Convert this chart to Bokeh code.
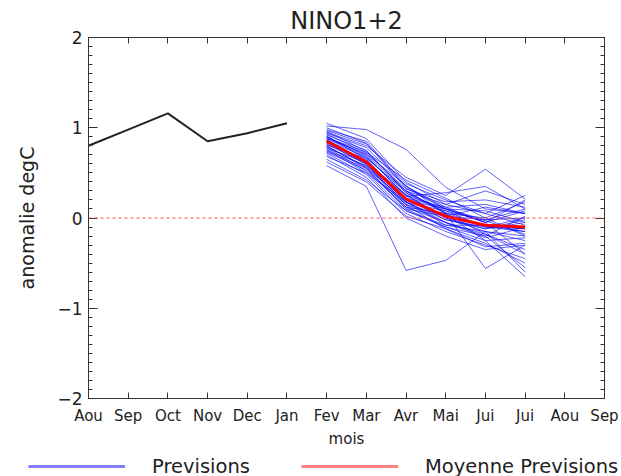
from bokeh.plotting import figure
from bokeh.layouts import column
from bokeh.models import (Range1d, FixedTicker, LinearAxis, Span, Legend,
                          LegendItem)
from bokeh.embed import file_html
from bokeh.resources import INLINE
import numpy as np

# ---- data -------------------------------------------------------------
months = ["Aou", "Sep", "Oct", "Nov", "Dec", "Jan", "Fev", "Mar", "Avr",
          "Mai", "Jui", "Jui", "Aou", "Sep"]
y_labels = {-2: "\u22122", -1: "\u22121", 0: "0", 1: "1", 2: "2"}

# observed anomaly (Aou .. Jan)
obs_x = [0, 1, 2, 3, 4, 5]
obs = [0.80, 0.98, 1.16, 0.85, 0.94, 1.05]

# forecast months (Fev .. Jui)
fc_x = [6, 7, 8, 9, 10, 11]

# ensemble members, one value per member for each forecast month
fev = [1.02, 0.58, 0.95, 0.90, 1.05, 0.98, 0.92, 0.88, 0.85, 0.82,
       0.80, 0.78, 0.75, 0.72, 0.70, 0.68, 0.65, 0.62, 0.97, 0.93,
       0.91, 0.89, 0.87, 0.86, 0.84, 0.83, 0.81, 0.79, 0.77, 0.76,
       0.74, 0.73, 0.94, 0.96, 1.00, 0.90, 0.88, 0.86, 0.85, 0.80]
mar = [0.98, 0.35, 0.80, 0.70, 0.88, 0.85, 0.75, 0.68, 0.62, 0.60,
       0.55, 0.52, 0.58, 0.48, 0.45, 0.50, 0.42, 0.40, 0.82, 0.72,
       0.65, 0.73, 0.60, 0.67, 0.64, 0.59, 0.66, 0.57, 0.62, 0.50,
       0.55, 0.53, 0.78, 0.74, 0.83, 0.69, 0.71, 0.63, 0.61, 0.56]
avr = [0.76, -0.58, 0.45, 0.30, 0.40, 0.35, 0.28, 0.25, 0.18, 0.15,
       0.10, 0.12, 0.22, 0.05, 0.00, 0.18, 0.08, 0.02, 0.38, 0.32,
       0.20, 0.42, 0.25, 0.28, 0.22, 0.12, 0.30, 0.17, 0.26, 0.08,
       0.20, 0.15, 0.35, 0.30, 0.33, 0.24, 0.36, 0.18, 0.14, 0.10]
mai = [0.34, -0.47, 0.25, 0.05, 0.15, 0.10, 0.08, 0.00, -0.05, 0.02,
       -0.10, 0.05, 0.12, -0.15, -0.20, -0.02, -0.08, -0.12, 0.20, 0.18,
       0.02, 0.22, 0.10, 0.05, -0.02, -0.05, 0.15, 0.08, 0.00, -0.10,
       0.10, -0.05, 0.12, 0.06, 0.10, 0.28, 0.04, -0.08, -0.12, 0.02]
juin = [0.10, -0.15, 0.54, -0.56, 0.05, -0.05, -0.10, -0.12, -0.20, -0.02,
        -0.25, 0.00, 0.15, -0.30, -0.35, -0.10, -0.15, -0.28, 0.05, 0.20,
        -0.08, 0.00, -0.05, -0.18, -0.12, -0.22, 0.30, -0.03, -0.15, -0.20,
        0.08, -0.18, -0.05, -0.10, -0.02, 0.35, -0.25, -0.08, -0.32, 0.12]
juil = [0.05, -0.20, 0.21, -0.30, 0.25, -0.40, -0.15, -0.05, -0.55, 0.10,
        -0.65, 0.18, 0.05, -0.45, -0.30, 0.00, -0.25, -0.50, -0.08, 0.12,
        -0.12, -0.20, 0.08, -0.35, -0.02, -0.10, 0.15, -0.18, -0.60, 0.02,
        -0.05, -0.40, 0.20, -0.12, 0.00, 0.10, -0.22, -0.15, -0.28, 0.05]

# ensemble mean
moyenne = [0.85, 0.62, 0.21, 0.02, -0.08, -0.10]

# ---- figure -----------------------------------------------------------
FONT = "DejaVu Sans"
TXT = "#222222"
LINE = "#333333"

p = figure(width=621, height=450, x_range=Range1d(0, 13),
           y_range=Range1d(-2, 2), output_backend="svg",
           toolbar_location=None, title="NINO1+2",
           min_border_left=88, min_border_right=17,
           min_border_top=37, min_border_bottom=50)
p.frame_align = False
p.background_fill_color = "white"
p.border_fill_color = "white"
p.outline_line_color = LINE
p.outline_line_width = 1
p.grid.visible = False

p.title.align = "center"
p.title.text_font = FONT
p.title.text_font_size = "24px"
p.title.text_font_style = "normal"
p.title.text_color = TXT
p.title.standoff = 5

xt = FixedTicker(ticks=list(range(14)), minor_ticks=[])
yt = FixedTicker(ticks=[-2, -1, 0, 1, 2],
                 minor_ticks=[round(v, 2) for v in np.arange(-2, 2.01, 0.1)])


def style_x(ax, labels=True):
    ax.ticker = xt
    ax.axis_line_color = LINE
    ax.major_tick_line_color = LINE
    ax.major_tick_in = 6
    ax.major_tick_out = 0
    ax.minor_tick_in = 0
    ax.minor_tick_out = 0
    if labels:
        ax.major_label_overrides = {i: m for i, m in enumerate(months)}
        ax.major_label_text_font = FONT
        ax.major_label_text_font_size = "15px"
        ax.major_label_text_color = TXT
        ax.major_label_standoff = 8
    else:
        ax.major_label_overrides = {i: "" for i in range(14)}
        ax.major_label_standoff = 0


def style_y(ax, labels=True):
    ax.ticker = yt
    ax.axis_line_color = LINE
    ax.major_tick_line_color = LINE
    ax.minor_tick_line_color = LINE
    ax.major_tick_in = 9
    ax.major_tick_out = 0
    ax.minor_tick_in = 4
    ax.minor_tick_out = 0
    if labels:
        ax.major_label_overrides = y_labels
        ax.major_label_text_font = FONT
        ax.major_label_text_font_size = "17px"
        ax.major_label_text_color = TXT
        ax.major_label_standoff = 6
    else:
        ax.major_label_overrides = {k: "" for k in y_labels}
        ax.major_label_standoff = 0


style_x(p.xaxis[0])
style_y(p.yaxis[0])
p.xaxis[0].axis_label = "mois"
p.xaxis[0].axis_label_text_font = FONT
p.xaxis[0].axis_label_text_font_size = "15px"
p.xaxis[0].axis_label_text_font_style = "normal"
p.xaxis[0].axis_label_text_color = TXT
p.xaxis[0].axis_label_standoff = 2
p.yaxis[0].axis_label = "anomalie degC"
p.yaxis[0].axis_label_text_font = FONT
p.yaxis[0].axis_label_text_font_size = "19px"
p.yaxis[0].axis_label_text_font_style = "normal"
p.yaxis[0].axis_label_text_color = TXT
p.yaxis[0].axis_label_standoff = 16

top = LinearAxis()
style_x(top, labels=False)
p.add_layout(top, "above")
right = LinearAxis()
style_y(right, labels=False)
p.add_layout(right, "right")

# zero line
p.add_layout(Span(location=0, dimension="width", line_color="#ff5050",
                  line_width=1, line_dash="3 3"))

# observations
p.line(obs_x, obs, line_color="#222222", line_width=2)

# ensemble members
members = list(zip(fev, mar, avr, mai, juin, juil))
p.multi_line(xs=[fc_x] * len(members), ys=[list(m) for m in members],
             line_color="#0000ff", line_alpha=0.62, line_width=1)

# ensemble mean
p.line(fc_x, moyenne, line_color="#ff0000", line_width=3)

# ---- legend strip below the plot ---------------------------------------
leg = figure(width=621, height=26, output_backend="svg",
             toolbar_location=None, min_border=0,
             x_axis_type=None, y_axis_type=None)
leg.frame_align = False
leg.outline_line_color = None
leg.grid.visible = False
leg.background_fill_color = "white"
leg.border_fill_color = "white"
nan2 = [np.nan, np.nan]
leg_b = leg.line(x=nan2, y=nan2, line_color="#8080ff", line_width=3)
leg_r = leg.line(x=nan2, y=nan2, line_color="#ff8080", line_width=3)
legend = Legend(items=[LegendItem(label="Previsions", renderers=[leg_b]),
                       LegendItem(label="Moyenne Previsions",
                                  renderers=[leg_r])],
                location=(28, -2), orientation="horizontal",
                glyph_width=97, glyph_height=24, label_standoff=27,
                label_width=149, label_height=24, spacing=0, padding=0,
                margin=0, border_line_color=None,
                background_fill_alpha=0,
                label_text_font=FONT, label_text_font_size="19.5px",
                label_text_color=TXT)
leg.add_layout(legend)

layout = column(p, leg, spacing=0)
open("out.html", "w").write(file_html(layout, INLINE))
